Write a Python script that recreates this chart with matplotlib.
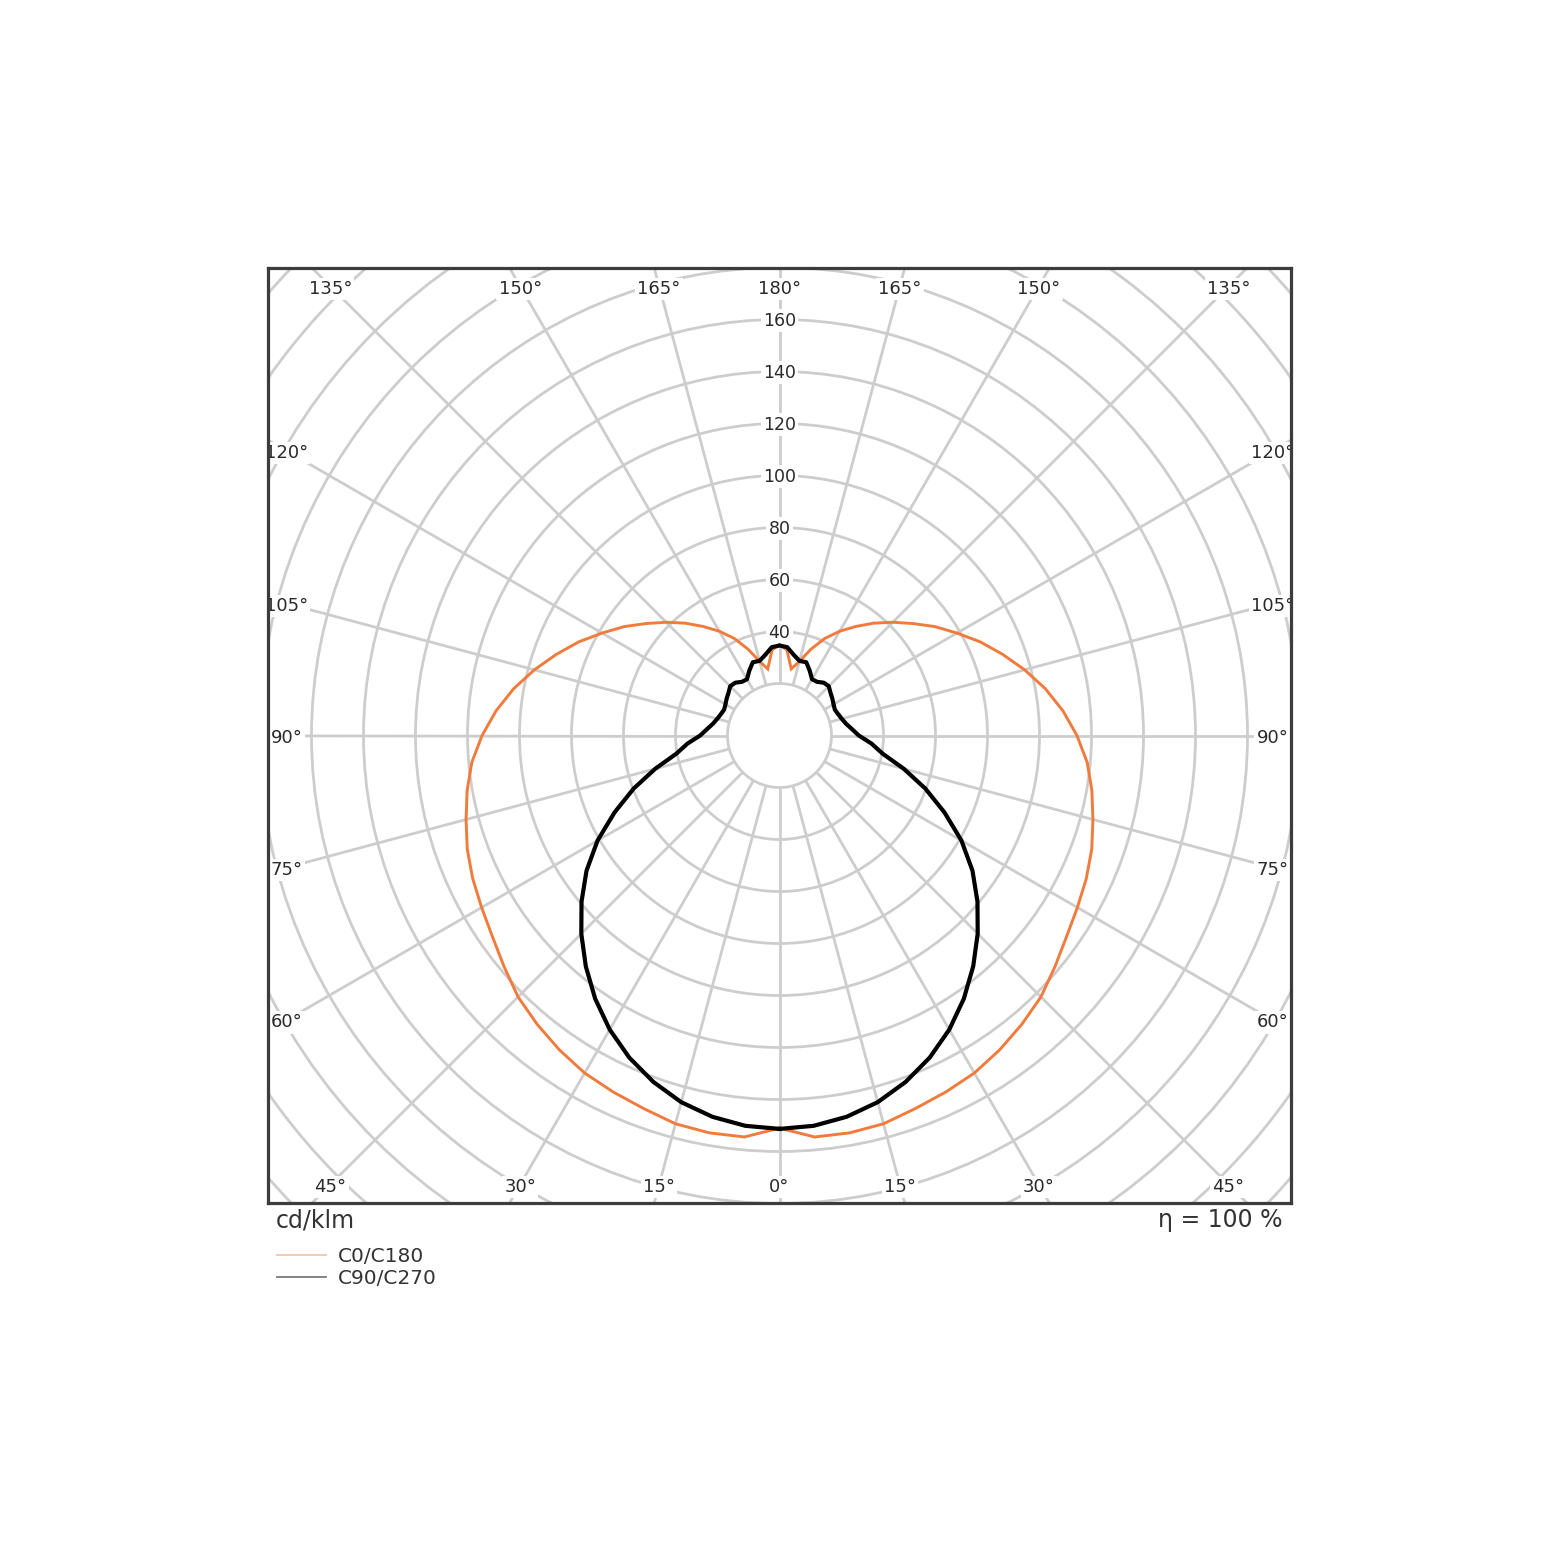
import numpy as np
import matplotlib
matplotlib.use("Agg")
import matplotlib.pyplot as plt
from matplotlib.patches import Circle
from matplotlib.lines import Line2D

# ---------------- data ----------------
gamma = [0, 5, 10, 15, 20, 25, 30, 35, 40, 45, 50, 55, 60, 65, 70, 75, 80, 85, 90,
         95, 100, 105, 110, 115, 120, 125, 130, 135, 140, 145, 150, 155, 160, 165,
         170, 175, 180]
i_c0_c180 = [151.0, 155.0, 155.2, 154.6, 152.7, 151.3, 149.9, 147.6, 145.0, 142.2,
             138.3, 134.8, 132.3, 130.2, 127.8, 124.8, 122.0, 118.8, 114.4,
             109.4, 103.8, 97.6, 91.3, 85.2, 78.8, 73.0, 67.0, 61.6, 56.4, 51.2,
             46.3, 41.2, 35.3, 29.5, 26.0, 33.0, 35.0]
i_c90_c270 = [151.3, 150.7, 148.9, 146.0, 141.8, 136.7, 130.6, 123.6, 115.9, 107.8,
              99.4, 90.6, 80.8, 70.0, 59.7, 49.5, 40.3, 35.5, 30.5,
              28.0, 26.0, 24.8, 24.0, 23.5, 24.0, 24.8, 25.6, 26.8, 26.5, 25.2,
              25.0, 27.5, 30.0, 29.7, 31.5, 34.1, 34.6]
series_labels = ["C0/C180", "C90/C270"]
radial_labels = [40, 60, 80, 100, 120, 140, 160]
grid_radii = list(range(20, 300, 20))
angle_ticks = [0, 15, 30, 45, 60, 75, 90, 105, 120, 135, 150, 165, 180]
unit_label = "cd/klm"
eta_label = "η = 100 %"

# ---------------- figure ----------------
W, H = 1560, 1561
fig = plt.figure(figsize=(W / 100, H / 100), dpi=100)
ax_l, ax_b, ax_w, ax_h = 268, 1203, 1023, 935
ax = fig.add_axes([ax_l / W, 1 - ax_b / H, ax_w / W, ax_h / H])
scale = 2.6  # px per unit
hx = ax_w / 2 / scale
hy = ax_h / 2 / scale
ax.set_xlim(-hx, hx)
ax.set_ylim(-hy, hy)
ax.set_xticks([])
ax.set_yticks([])
for sp in ax.spines.values():
    sp.set_linewidth(2.3)
    sp.set_color("#3c3c3c")
    sp.set_zorder(10)

grid_col = "#cdcdcd"
grid_lw = 2.0
for r in grid_radii:
    ax.add_patch(Circle((0, 0), r, fill=False, ec=grid_col, lw=grid_lw, zorder=1))
r_in, r_out = grid_radii[0], 400
for a in np.arange(0, 360, 15):
    s, c = np.sin(np.radians(a)), np.cos(np.radians(a))
    ax.plot([r_in * s, r_out * s], [-r_in * c, -r_out * c], color=grid_col,
            lw=grid_lw, zorder=1, solid_capstyle="butt")

# radial labels
for r in radial_labels:
    ax.text(0, r - 0.4, str(r), ha="center", va="center", fontsize=12.5,
            color="#2a2a2a", zorder=3,
            bbox=dict(boxstyle="square,pad=0.12", fc="white", ec="none"))

# angle labels on an inset rectangle
inset = 7.1
lx, ly = hx - inset, hy - inset
for a in angle_ticks:
    s, c = np.sin(np.radians(a)), -np.cos(np.radians(a))
    t = min(lx / abs(s) if abs(s) > 1e-9 else 1e9, ly / abs(c) if abs(c) > 1e-9 else 1e9)
    sides = [1] if a in (0, 180) else [1, -1]
    for sgn in sides:
        ax.text(sgn * t * s, t * c - 0.9, f"{a}°", ha="center", va="center",
                fontsize=13, color="#2a2a2a", zorder=3, clip_on=True,
                bbox=dict(boxstyle="square,pad=0.12", fc="white", ec="none"))

# curves
g = np.radians(np.array(gamma))
def closed(vals):
    v = np.array(vals)
    x = np.concatenate([v * np.sin(g), -(v * np.sin(g))[::-1]])
    y = np.concatenate([-v * np.cos(g), -(v * np.cos(g))[::-1]])
    return x, y

x0, y0 = closed(i_c0_c180)
ax.plot(x0, y0, color="#f07b3c", lw=2.1, zorder=5, solid_joinstyle="miter")
x1, y1 = closed(i_c90_c270)
ax.plot(x1, y1, color="#000000", lw=3.0, zorder=6, solid_joinstyle="round")

# bottom texts
ax.text(8 / ax_w, -17 / ax_h, unit_label, transform=ax.transAxes, ha="left",
        va="center", fontsize=17, color="#333333")
ax.text((1282 - ax_l) / ax_w, -17 / ax_h, eta_label, transform=ax.transAxes,
        ha="right", va="center", fontsize=17, color="#333333")

handles = [Line2D([], [], color="#f8c4a6", lw=1.3),
           Line2D([], [], color="#7a7a7a", lw=1.3)]
ax.legend(handles, series_labels, loc="upper left",
          bbox_to_anchor=(9 / ax_w, -44 / ax_h), frameon=False, fontsize=14.5,
          borderpad=0, borderaxespad=0, handlelength=2.45, handletextpad=0.55,
          labelspacing=0.15, labelcolor="#333333")

fig.savefig("out.png", dpi=100, facecolor="white")
